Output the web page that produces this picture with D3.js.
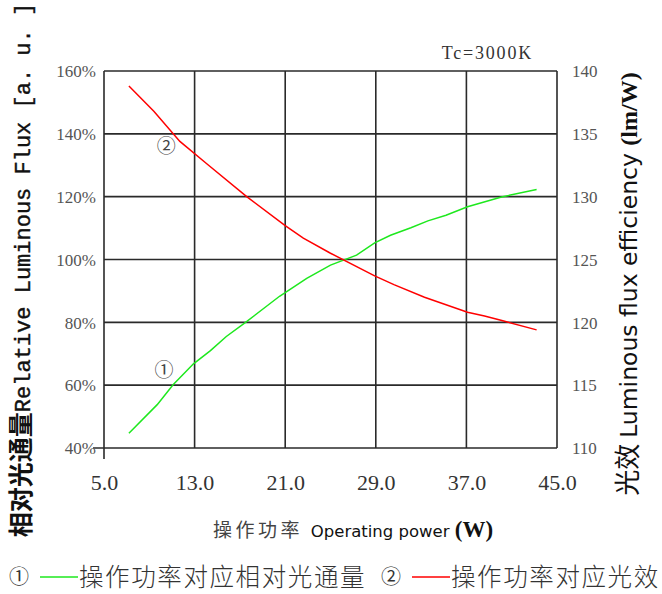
<!DOCTYPE html>
<html>
<head>
<meta charset="utf-8">
<script src="https://cdn.jsdelivr.net/npm/d3@7"></script>
<style>
  body { margin: 0; background: #fff; }
  svg { display: block; }
</style>
</head>
<body>
<div id="chart-area"></div>
<script>
// Data
const fluxPower = [7.2, 9.7, 11.1, 12.9, 14.4, 15.8, 17.5, 20.5, 22.9, 25.0, 27.3, 28.9, 30.3, 32.1, 33.6, 35.2, 37.1, 40.1, 43.2]
const relFlux   = [44.7, 53.8, 60.1, 66.8, 71.0, 75.5, 80.0, 88.3, 94.0, 98.2, 101.4, 105.3, 107.7, 110.1, 112.3, 114.1, 116.8, 119.9, 122.3]

const effPower  = [7.2, 9.4, 11.7, 14.1, 17.6, 21.0, 22.6, 25.0, 28.9, 30.6, 33.3, 37.1, 38.6, 40.3, 43.2]
const efficacy  = [138.8, 136.8, 134.4, 132.6, 130.0, 127.7, 126.7, 125.5, 123.7, 123.0, 122.0, 120.8, 120.5, 120.1, 119.4]

const xTicks = [5, 13, 21, 29, 37, 45]
const leftTicks = [40, 60, 80, 100, 120, 140, 160]
const rightTicks = [110, 115, 120, 125, 130, 135, 140]

const MARGIN = { LEFT: 104, RIGHT: 105, TOP: 71, BOTTOM: 146 }
const WIDTH = 662 - MARGIN.LEFT - MARGIN.RIGHT
const HEIGHT = 594 - MARGIN.TOP - MARGIN.BOTTOM

const CJK = "'Noto Sans CJK SC', sans-serif"
const SERIF = "'Liberation Serif', 'DejaVu Serif', serif"
const SANS = "'DejaVu Sans', sans-serif"
const MONO = "'Liberation Mono', 'DejaVu Sans Mono', monospace"

const svg = d3.select("#chart-area").append("svg")
  .attr("width", 662)
  .attr("height", 594)

const g = svg.append("g")
  .attr("transform", `translate(${MARGIN.LEFT}, ${MARGIN.TOP})`)

// Scales
const x = d3.scaleLinear().domain([5, 45]).range([0, WIDTH])
const yLeft = d3.scaleLinear().domain([40, 160]).range([HEIGHT, 0])
const yRight = d3.scaleLinear().domain([110, 140]).range([HEIGHT, 0])

// Grid
const grid = g.append("g").attr("stroke", "#2a2a2a").attr("stroke-width", 1.6)
grid.selectAll(".vgrid").data(xTicks.slice(1)).enter().append("line")
  .attr("x1", d => x(d)).attr("x2", d => x(d))
  .attr("y1", 0).attr("y2", HEIGHT)
grid.selectAll(".hgrid").data(leftTicks.slice(1)).enter().append("line")
  .attr("x1", 0).attr("x2", WIDTH)
  .attr("y1", d => yLeft(d)).attr("y2", d => yLeft(d))
// bottom and left axis lines stick out a little
grid.append("line").attr("x1", -11).attr("x2", WIDTH).attr("y1", HEIGHT).attr("y2", HEIGHT)
grid.append("line").attr("x1", 0).attr("x2", 0).attr("y1", 0).attr("y2", HEIGHT + 11)

// Axes (labels only, lines are the grid)
const xAxis = g.append("g")
  .attr("transform", `translate(0, ${HEIGHT})`)
  .call(d3.axisBottom(x).tickValues(xTicks).tickSize(0).tickFormat(d3.format(".1f")))
xAxis.select(".domain").remove()
xAxis.selectAll("text")
  .attr("y", 42).attr("dy", 0)
  .attr("font-family", SERIF).attr("font-size", "22px").attr("fill", "#333")

const leftAxis = g.append("g")
  .call(d3.axisLeft(yLeft).tickValues(leftTicks).tickSize(0).tickFormat(d => d + "%"))
leftAxis.select(".domain").remove()
leftAxis.selectAll("text")
  .attr("x", -8).attr("dy", "0.34em")
  .attr("font-family", SERIF).attr("font-size", "17px").attr("fill", "#555")

const rightAxis = g.append("g")
  .attr("transform", `translate(${WIDTH}, 0)`)
  .call(d3.axisRight(yRight).tickValues(rightTicks).tickSize(0))
rightAxis.select(".domain").remove()
rightAxis.selectAll("text")
  .attr("x", 15).attr("dy", "0.34em")
  .attr("font-family", SERIF).attr("font-size", "17px").attr("fill", "#555")

// Curves
const fluxLine = d3.line()
  .x(i => x(fluxPower[i]))
  .y(i => yLeft(relFlux[i]))
const effLine = d3.line()
  .x(i => x(effPower[i]))
  .y(i => yRight(efficacy[i]))

g.append("path")
  .attr("d", fluxLine(d3.range(fluxPower.length)))
  .attr("fill", "none").attr("stroke", "#1ee81e").attr("stroke-width", 1.5)
g.append("path")
  .attr("d", effLine(d3.range(effPower.length)))
  .attr("fill", "none").attr("stroke", "#ff0000").attr("stroke-width", 1.5)

// Curve markers
g.append("text").attr("x", x(10.3)).attr("y", yLeft(64.6)).attr("dy", "0.35em")
  .attr("text-anchor", "middle").attr("font-family", CJK).attr("font-size", "19px")
  .attr("fill", "#444").text("①")
g.append("text").attr("x", x(10.5)).attr("y", yLeft(135.9)).attr("dy", "0.35em")
  .attr("text-anchor", "middle").attr("font-family", CJK).attr("font-size", "19px")
  .attr("fill", "#444").text("②")

// Tc label
g.append("text").attr("x", 429).attr("y", -12)
  .attr("text-anchor", "end").attr("font-family", SERIF).attr("font-size", "18px")
  .attr("letter-spacing", "1.8px").attr("fill", "#333").text("Tc=3000K")

// Left axis title
const leftTitle = svg.append("text")
  .attr("transform", "translate(30, 270) rotate(-90)")
  .attr("text-anchor", "middle").attr("fill", "#111")
leftTitle.append("tspan").attr("font-family", CJK).attr("font-size", "25px")
  .attr("font-weight", 700).text("相对光通量")
leftTitle.append("tspan").attr("font-family", MONO).attr("font-size", "22px")
  .attr("stroke", "#111").attr("stroke-width", 0.4)
  .text("Relative Luminous Flux [a. u. ]")

// Right axis title
const rightTitle = svg.append("text")
  .attr("transform", "translate(637, 284) rotate(-90)")
  .attr("text-anchor", "middle").attr("fill", "#111")
rightTitle.append("tspan").attr("font-family", CJK).attr("font-size", "26px").text("光效 ")
rightTitle.append("tspan").attr("font-family", SANS).attr("font-size", "23.5px").text("Luminous flux efficiency ")
rightTitle.append("tspan").attr("font-family", SERIF).attr("font-size", "24px")
  .attr("font-weight", "bold").text("(lm/W)")

// Bottom axis title
const xTitle = svg.append("text").attr("x", 213).attr("y", 537).attr("fill", "#111")
xTitle.append("tspan").attr("font-family", CJK).attr("font-size", "19px")
  .attr("letter-spacing", "3.5px").attr("fill", "#444").text("操作功率 ")
xTitle.append("tspan").attr("font-family", SANS).attr("font-size", "16.5px").text("Operating power ")
xTitle.append("tspan").attr("font-family", SERIF).attr("font-size", "23px")
  .attr("font-weight", "bold").text("(W)")

// Legend
const legendItems = [
  { mark: "①", color: "#1ee81e", label: "操作功率对应相对光通量", x: 9 },
  { mark: "②", color: "#ff0000", label: "操作功率对应光效", x: 381 }
]
legendItems.forEach(item => {
  const row = svg.append("g").attr("transform", `translate(${item.x}, 577)`)
  row.append("text").attr("x", 10).attr("dy", "0.35em").attr("text-anchor", "middle")
    .attr("font-family", CJK).attr("font-size", "20px").attr("fill", "#333").text(item.mark)
  row.append("line").attr("x1", 31).attr("x2", 69).attr("y1", 0).attr("y2", 0)
    .attr("stroke", item.color).attr("stroke-width", 1.6)
  row.append("text").attr("x", 70).attr("dy", "0.36em")
    .attr("font-family", CJK).attr("font-size", "24.5px").attr("letter-spacing", "1.6px")
    .attr("font-weight", 300).attr("fill", "#333").text(item.label)
})
</script>
</body>
</html>
